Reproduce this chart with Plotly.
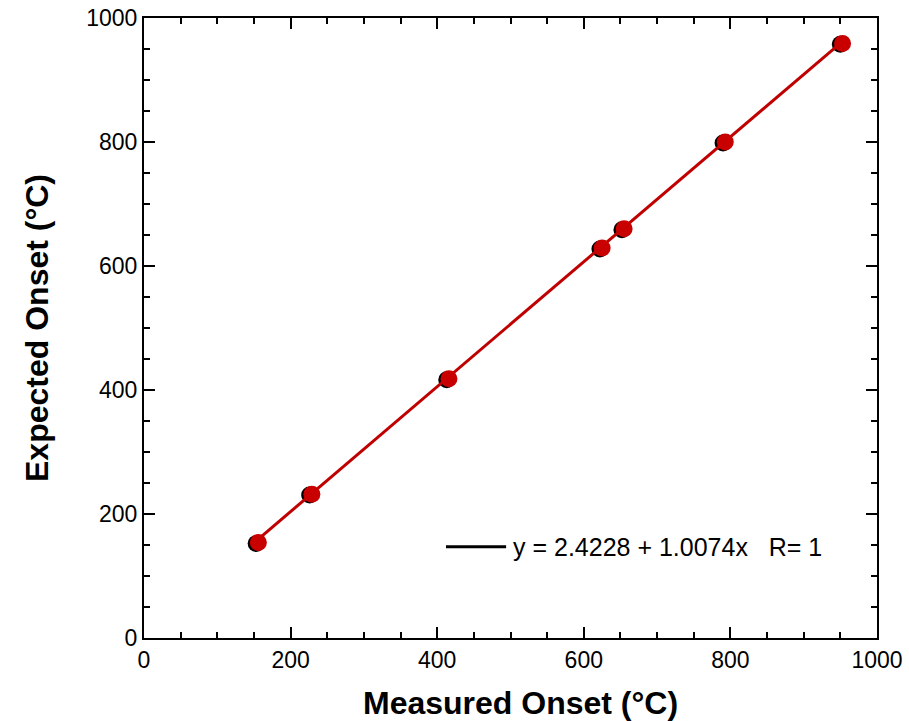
import plotly.graph_objects as go

measured = [156, 229, 416, 625, 655, 793, 953]
expected = [154, 232, 418, 629, 660, 800, 959]
fit_a = 2.4228
fit_b = 1.0074
fit_label = "y = 2.4228 + 1.0074x   R= 1"
x_title = "Measured Onset (°C)"
y_title = "Expected Onset (°C)"

x_ticks = [0, 200, 400, 600, 800, 1000]
y_ticks = [0, 200, 400, 600, 800, 1000]

fit_x = [measured[0], measured[-1]]
fit_y = [fit_a + fit_b * v for v in fit_x]

fig = go.Figure()
# black markers (slightly offset, underneath)
fig.add_trace(go.Scatter(x=[v - 3 for v in measured], y=[v - 1.5 for v in expected],
                         mode="markers", marker=dict(size=17, color="black"),
                         showlegend=False, hoverinfo="skip"))
fig.add_trace(go.Scatter(x=fit_x, y=fit_y, mode="lines",
                         line=dict(color="#c00000", width=3), showlegend=False))
fig.add_trace(go.Scatter(x=measured, y=expected, mode="markers",
                         marker=dict(size=17, color="#c80000"), showlegend=False))

font = "Liberation Sans, Arial, Helvetica, sans-serif"
axis_common = dict(
    range=[0, 1000], showgrid=False, zeroline=False, automargin=False,
    showline=True, linecolor="black", linewidth=2, mirror="ticks",
    ticks="inside", ticklen=11, tickwidth=1.5, tickcolor="black",
    minor=dict(dtick=50, ticks="inside", ticklen=6, tickwidth=1.5, tickcolor="black"),
    tickfont=dict(family=font, size=23, color="black"),
)

fig.update_layout(
    width=909, height=721,
    margin=dict(l=144, r=32, t=18, b=83),
    paper_bgcolor="white", plot_bgcolor="white",
    xaxis=dict(**axis_common, tickvals=x_ticks),
    yaxis=dict(**axis_common, tickvals=y_ticks,
               title=dict(text="<b>" + y_title + "</b>", font=dict(family=font, size=32, color="black"), standoff=28)),
    showlegend=False,
)

fig.add_annotation(xref="paper", yref="paper", x=0.513, y=-0.105, xanchor="center", yanchor="middle",
                   text="<b>" + x_title + "</b>", showarrow=False,
                   font=dict(family=font, size=32, color="black"))

fig.add_shape(type="line", xref="paper", yref="paper", x0=0.412, x1=0.494, y0=0.147, y1=0.147,
              line=dict(color="black", width=3))
fig.add_annotation(xref="paper", yref="paper", x=0.501, y=0.147, xanchor="left", yanchor="middle",
                   text=fit_label, showarrow=False, font=dict(family=font, size=25, color="black"))

fig.write_html("out.html")
